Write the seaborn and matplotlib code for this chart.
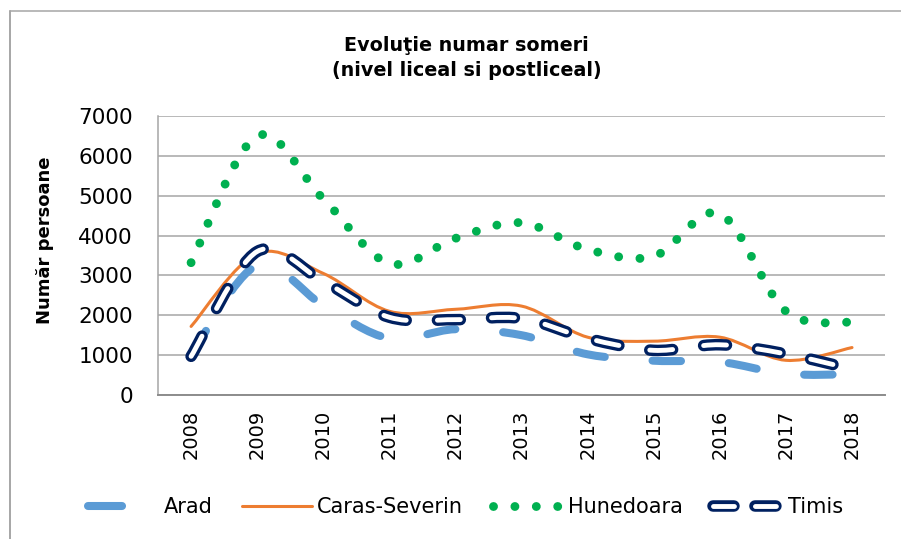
import matplotlib
matplotlib.use('Agg')
import numpy as np
import pandas as pd
import seaborn as sns
import matplotlib.pyplot as plt
import matplotlib.patheffects as pe
from matplotlib.path import Path
from matplotlib.patches import PathPatch
from matplotlib.lines import Line2D
from matplotlib.colors import to_hex

# date (numar someri, nivel liceal si postliceal)
years = [2008, 2009, 2010, 2011, 2012, 2013, 2014, 2015, 2016, 2017, 2018]
arad = [1000, 3250, 2250, 1420, 1650, 1500, 1020, 860, 830, 530, 520]
caras = [1720, 3550, 3050, 2100, 2150, 2230, 1450, 1350, 1450, 870, 1190]
hunedoara = [3320, 6500, 4920, 3300, 3930, 4320, 3650, 3480, 4550, 2100, 1820]
timis = [970, 3600, 2850, 1950, 1890, 1920, 1420, 1120, 1260, 1030, 650]

names = ['Arad', 'Caras-Severin', 'Hunedoara', 'Timis']
colors = ['#5B9BD5', '#ED7D31', '#00B050', '#002060']

df = pd.DataFrame({
    'An': years * 4,
    'Someri': arad + caras + hunedoara + timis,
    'Judet': ['Arad'] * 11 + ['Caras-Severin'] * 11 + ['Hunedoara'] * 11 + ['Timis'] * 11,
})

sns.set_style('white')
plt.rcParams['font.family'] = ['DejaVu Sans']
plt.rcParams['lines.scale_dashes'] = False
plt.rcParams['text.color'] = 'black'
plt.rcParams['xtick.color'] = 'black'
plt.rcParams['ytick.color'] = 'black'

fig = plt.figure(figsize=(9.01, 5.39), dpi=100)
ax = fig.add_axes([0.1754, 0.2672, 0.8069, 0.5176])

sns.lineplot(data=df, x='An', y='Someri', hue='Judet', hue_order=names,
             palette=colors, legend=False, ax=ax)

# stiluri ca in Excel (linii netezite)
timis_fx = [pe.Stroke(linewidth=8.3, foreground='#002060'),
            pe.Stroke(linewidth=3.5, foreground='white')]
styles = {
    'Arad': dict(lw=5.8, ls=(0, (20.5, 34.5)), z=2.1, fx=None),
    'Caras-Severin': dict(lw=2.2, ls='-', z=2.2, fx=None),
    'Hunedoara': dict(lw=6.4, ls=(0, (0.01, 15.4)), z=2.3, fx=None),
    'Timis': dict(lw=8.3, ls=(0, (16.5, 22.5)), z=2.4, fx=timis_fx),
}
col2name = {to_hex(c): n for c, n in zip(colors, names)}


def smooth_path(xy):
    # bezier tip catmull-rom, ca "smoothed line" din Excel
    n = len(xy)
    verts = [xy[0]]
    codes = [Path.MOVETO]
    for i in range(n - 1):
        p0 = xy[max(i - 1, 0)]
        p1 = xy[i]
        p2 = xy[i + 1]
        p3 = xy[min(i + 2, n - 1)]
        verts += [p1 + (p2 - p0) / 6, p2 - (p3 - p1) / 6, p2]
        codes += [Path.CURVE4] * 3
    return Path(verts, codes)


for line in list(ax.lines):
    name = col2name[to_hex(line.get_color())]
    st = styles[name]
    patch = PathPatch(smooth_path(line.get_xydata()), facecolor='none',
                      edgecolor=line.get_color(), lw=st['lw'], linestyle=st['ls'],
                      capstyle='round', joinstyle='round', zorder=st['z'])
    if st['fx'] is not None:
        patch.set_path_effects(st['fx'])
    ax.add_patch(patch)
    line.set_visible(False)

ax.set_xlim(2007.5, 2018.5)
ax.set_ylim(0, 7000)
ax.set_yticks(range(0, 7001, 1000))
ax.set_xticks(years)
ax.set_xticklabels([str(y) for y in years], rotation=90)
ax.tick_params(axis='y', labelsize=15.5, pad=18, length=0)
ax.tick_params(axis='x', labelsize=14, pad=10.5, length=0)
ax.set_xlabel('')
ax.set_ylabel('')
ax.grid(axis='y', color='#A6A6A6', lw=1.1)
ax.set_axisbelow(True)
for s in ['top', 'right']:
    ax.spines[s].set_visible(False)
ax.spines['left'].set_color('#A6A6A6')
ax.spines['left'].set_linewidth(1.1)
ax.spines['bottom'].set_color('#8C8C8C')
ax.spines['bottom'].set_linewidth(1.4)

fig.text(0.518, 0.892, 'Evoluţie numar someri\n(nivel liceal si postliceal)',
         ha='center', va='center', fontsize=13.8, fontweight='bold', linespacing=1.38)
fig.text(45 / 901, (539 - 240) / 539, 'Număr persoane', rotation=90,
         ha='center', va='center', fontsize=13, fontweight='bold')

handles = [
    Line2D([], [], color=colors[0], lw=5.8, ls=(0, (24.5, 40)), dash_capstyle='round'),
    Line2D([], [], color=colors[1], lw=2.2),
    Line2D([], [], color=colors[2], lw=6.4, ls=(0, (0.01, 15.4)), dash_capstyle='round'),
    Line2D([], [], color='white', lw=3.5, ls=(0, (15.1, 15.1)), dash_capstyle='round',
           path_effects=[pe.Stroke(linewidth=8.3, foreground='#002060'),
                         pe.Stroke(linewidth=3.5, foreground='white')]),
]
fig.legend(handles, names, loc='center', bbox_to_anchor=(0.517, 0.0594), ncol=4,
           frameon=False, fontsize=15, handlelength=3.36, handletextpad=0.24,
           columnspacing=1.44)

# chenarul graficului
fig.add_artist(Line2D([9.5 / 901] * 2, [0, (539 - 11) / 539], transform=fig.transFigure,
                      color='#A6A6A6', lw=1.4))
fig.add_artist(Line2D([9.5 / 901, 1], [(539 - 11) / 539] * 2, transform=fig.transFigure,
                      color='#A6A6A6', lw=1.1))

fig.savefig('out.png', dpi=100)
